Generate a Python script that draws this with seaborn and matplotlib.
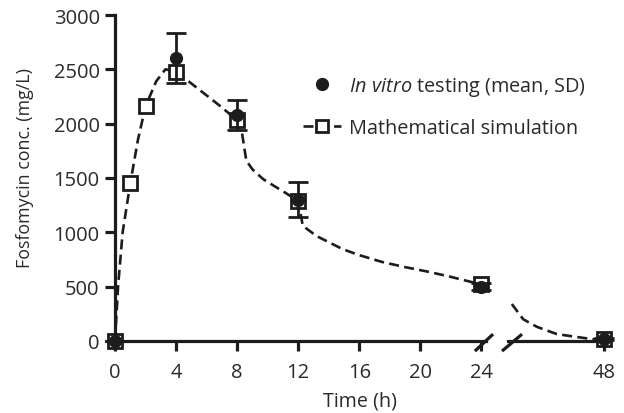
import numpy as np
import pandas as pd
import matplotlib
matplotlib.use("Agg")
import matplotlib.pyplot as plt
import seaborn as sns
from matplotlib.lines import Line2D

# ---- data ----
invitro_t = [0, 4, 8, 12, 24, 48]
invitro_mean = [0, 2600, 2080, 1300, 500, 20]
invitro_sd = [0, 230, 140, 160, 30, 10]

sim_t = [0, 1, 2, 4, 8, 12, 24, 48]
sim_c = [0, 1450, 2160, 2480, 2030, 1290, 520, 15]

curve_t = [0, 0.2, 0.5, 1, 1.5, 2, 2.7, 3.3, 4, 5, 6, 7, 8, 8.3, 8.6, 9, 9.7,
           10.5, 11.2, 12, 12.3, 13.2, 14.9, 16, 17.5, 19, 20.6, 22, 24]
curve_c = [0, 500, 1000, 1450, 1850, 2160, 2390, 2500, 2480, 2370, 2260, 2150,
           2030, 1930, 1660, 1580, 1490, 1420, 1360, 1290, 1060, 966, 846, 790,
           727, 680, 635, 590, 520]
curve2_t = [41.95, 42.7, 43.6, 44.9, 46.2, 47.2, 48]
curve2_c = [340, 200, 130, 64, 37, 18, 12]

x_ticks_left = [0, 4, 8, 12, 16, 20, 24]
x_ticks_right = [48]
y_ticks = [0, 500, 1000, 1500, 2000, 2500, 3000]

# ---- style ----
sns.set_theme(style="ticks")
FONT = "Open Sans"
plt.rcParams["font.family"] = [FONT, "DejaVu Sans"]
plt.rcParams["mathtext.fontset"] = "custom"
plt.rcParams["mathtext.it"] = f"{FONT}:italic"
plt.rcParams["mathtext.rm"] = FONT
INK = "#1c1c1c"
TEXT = "#2a2a2a"
FS_TICK = 14.5
FS_LEG = 14.3
FS_XLAB = 14.2
FS_YLAB = 12.9
DASH = (0, (3.8, 2.0))

fig = plt.figure(figsize=(6.24, 4.14), dpi=100)
W, H = 624, 414
def rect(l, r, t, b):
    return [l / W, 1 - b / H, (r - l) / W, (b - t) / H]

ax1 = fig.add_axes(rect(115, 486, 16, 342))
ax2 = fig.add_axes(rect(508, 606, 16, 342))

df1 = pd.DataFrame({"t": curve_t, "c": curve_c})
df2 = pd.DataFrame({"t": curve2_t, "c": curve2_c})
sim = pd.DataFrame({"t": sim_t, "c": sim_c})
vit = pd.DataFrame({"t": invitro_t, "m": invitro_mean, "sd": invitro_sd})

for ax, dfc, lo, hi in [(ax1, df1, 0, 24.3), (ax2, df2, 41.7, 48.13)]:
    sns.lineplot(data=dfc, x="t", y="c", ax=ax, color=INK, lw=1.9,
                 linestyle=DASH, sort=False)
    s = sim[(sim.t >= lo - 0.5) & (sim.t <= hi + 0.5)]
    ax.plot(s.t, s.c, ls="none", marker="s", ms=9.5, mfc="white",
            mec=INK, mew=2.0, clip_on=False, zorder=4)
    v = vit[(vit.t >= lo - 0.5) & (vit.t <= hi + 0.5)]
    ax.errorbar(v.t, v.m, yerr=v.sd, fmt="o", ms=8.5, color=INK, ecolor=INK,
                elinewidth=2.0, capsize=7, capthick=2.0, clip_on=False, zorder=5)
    ax.set_xlim(lo, hi)
    ax.set_ylim(0, 3000)
    ax.set_xlabel("")
    ax.set_ylabel("")
    for sp in ["top", "right"]:
        ax.spines[sp].set_visible(False)
    for sp in ["left", "bottom"]:
        ax.spines[sp].set_linewidth(2.3)
        ax.spines[sp].set_color(INK)
    ax.tick_params(axis="both", direction="out", length=7, width=2.3,
                   color=INK, labelsize=FS_TICK, labelcolor=TEXT)
    ax.tick_params(axis="x", pad=8)
    ax.tick_params(axis="y", pad=4)
    ax.set_facecolor("none")

ax1.set_xticks(x_ticks_left)
ax1.set_yticks(y_ticks)
ax2.set_xticks(x_ticks_right)
ax2.spines["left"].set_visible(False)
ax2.tick_params(axis="y", left=False, labelleft=False)

# break marks
d_kw = dict(color=INK, lw=2.3, clip_on=False, solid_capstyle="butt")
ax1.plot([0.970, 1.019], [-0.031, 0.021], transform=ax1.transAxes, **d_kw)
ax2.plot([-0.061, 0.143], [-0.031, 0.021], transform=ax2.transAxes, **d_kw)

ax1.set_ylabel("Fosfomycin conc. (mg/L)", fontsize=FS_YLAB, color=TEXT)
ax1.yaxis.set_label_coords(-0.218, 0.534)
fig.text(360 / W, 1 - 407 / H, "Time (h)", ha="center", va="baseline",
         fontsize=FS_XLAB, color=TEXT)

handles = [
    Line2D([], [], ls="none", marker="o", ms=8.5, color=INK),
    Line2D([], [], ls=DASH, lw=1.9, marker="s", ms=9, mfc="white",
           mec=INK, mew=2.0, color=INK),
]
labels = [r"$\it{In\ vitro}$ testing (mean, SD)", "Mathematical simulation"]
ax1.legend(handles, labels, loc="upper left", bbox_to_anchor=(303 / W, 1 - 76 / H),
           bbox_transform=fig.transFigure, frameon=False, fontsize=FS_LEG,
           handlelength=1.9, handletextpad=0.4, labelspacing=1.0,
           borderpad=0, borderaxespad=0, labelcolor=TEXT)

fig.savefig("out.png", dpi=100)
